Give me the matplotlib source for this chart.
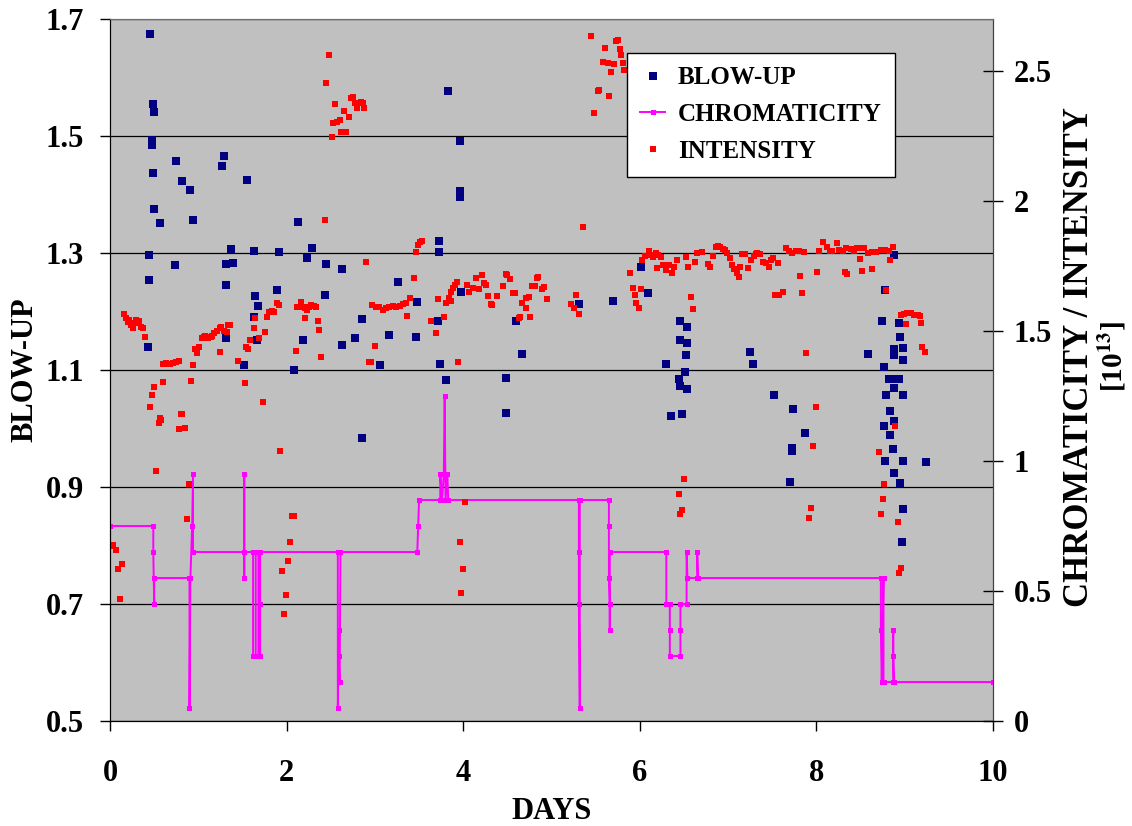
import matplotlib
matplotlib.use("Agg")
import matplotlib.pyplot as plt
from matplotlib.ticker import FormatStrFormatter, FuncFormatter

# BLOW-UP (left axis)
blow_day = [0.45, 0.49, 0.50, 0.48, 0.47, 0.49, 0.50, 0.57, 0.44, 0.44, 0.43,
            0.75, 0.82, 0.91, 0.94, 0.74, 1.27, 1.29, 1.37, 1.31, 1.39, 1.31, 1.31,
            1.55, 1.63, 1.64, 1.68, 1.63, 1.67, 1.52, 1.91, 1.89, 2.13, 2.29, 2.23,
            2.18, 2.08, 2.45, 2.43, 2.63, 2.85, 2.63, 2.77, 3.16, 3.06, 3.26, 2.85,
            3.83, 3.96, 3.96, 3.96, 3.73, 3.73, 3.48, 3.97, 3.47, 3.71, 3.74, 3.80,
            4.60, 4.67, 4.48, 4.48, 5.31, 5.70, 6.01, 6.09,
            6.45, 6.53, 6.46, 6.54, 6.52, 6.51, 6.44, 6.46, 6.54, 6.30, 6.35, 6.48,
            7.25, 7.28, 7.52, 7.74, 7.87, 7.72, 7.72, 7.70,
            8.88, 8.78, 8.74, 8.94, 8.95, 8.88, 8.98, 8.88, 8.98, 8.59, 8.76, 8.82,
            8.88, 8.93, 8.79, 8.88, 8.98, 8.83, 8.88, 8.76, 8.83, 8.87, 8.78, 8.98,
            9.24, 8.88, 8.95, 8.98, 8.97]
blow_val = [1.674, 1.555, 1.541, 1.493, 1.484, 1.436, 1.375, 1.351, 1.296, 1.253, 1.140,
            1.457, 1.423, 1.408, 1.356, 1.280, 1.448, 1.465, 1.306, 1.281, 1.283, 1.245, 1.154,
            1.424, 1.303, 1.226, 1.209, 1.191, 1.151, 1.108, 1.301, 1.237, 1.353, 1.309, 1.291,
            1.152, 1.100, 1.282, 1.229, 1.273, 1.187, 1.143, 1.154, 1.160, 1.108, 1.250, 0.983,
            1.577, 1.492, 1.406, 1.395, 1.321, 1.301, 1.217, 1.234, 1.157, 1.183, 1.111, 1.083,
            1.183, 1.127, 1.087, 1.026, 1.213, 1.218, 1.276, 1.232,
            1.184, 1.173, 1.151, 1.147, 1.126, 1.097, 1.085, 1.072, 1.068, 1.110, 1.022, 1.024,
            1.130, 1.111, 1.057, 1.033, 0.993, 0.967, 0.962, 0.909,
            1.296, 1.237, 1.184, 1.180, 1.156, 1.136, 1.137, 1.126, 1.117, 1.127, 1.105, 1.085,
            1.085, 1.085, 1.057, 1.070, 1.057, 1.030, 1.013, 1.004, 0.989, 0.965, 0.944, 0.944,
            0.942, 0.924, 0.907, 0.862, 0.806]

# CHROMATICITY (right axis, step-like line)
chrom_day = [0.00, 0.49, 0.49, 0.50, 0.50, 0.90, 0.90, 0.91, 0.93, 0.94, 0.94,
             1.52, 1.52, 1.52, 1.52, 1.62, 1.62, 1.65, 1.65, 1.68, 1.68, 1.70, 1.70, 1.70,
             2.58, 2.58, 2.59, 2.59, 2.60, 2.61, 3.48, 3.49, 3.50,
             3.74, 3.74, 3.76, 3.78, 3.79, 3.80, 3.82, 3.83,
             5.31, 5.31, 5.31, 5.32, 5.32, 5.65, 5.65, 5.65, 5.66, 5.66, 5.66,
             6.30, 6.30, 6.34, 6.34, 6.34, 6.46, 6.46, 6.46, 6.53, 6.53, 6.53, 6.54,
             6.65, 6.65, 6.66, 8.73, 8.73, 8.74, 8.76, 8.76, 8.87, 8.87, 8.87, 8.88, 10.0]
chrom_val = [0.75, 0.75, 0.65, 0.45, 0.55, 0.55, 0.05, 0.55, 0.75, 0.95, 0.65,
             0.65, 0.95, 0.55, 0.65, 0.65, 0.25, 0.25, 0.65, 0.65, 0.25, 0.25, 0.45, 0.65,
             0.65, 0.05, 0.35, 0.25, 0.15, 0.65, 0.65, 0.75, 0.85,
             0.85, 0.95, 0.85, 0.95, 1.25, 0.85, 0.95, 0.85,
             0.85, 0.65, 0.45, 0.05, 0.85, 0.85, 0.75, 0.55, 0.45, 0.35, 0.65,
             0.65, 0.45, 0.45, 0.35, 0.25, 0.25, 0.35, 0.45, 0.45, 0.55, 0.65, 0.55,
             0.55, 0.65, 0.55, 0.55, 0.35, 0.15, 0.55, 0.15, 0.15, 0.35, 0.25, 0.15, 0.15]

# INTENSITY (right axis)
int_day = [0.00, 0.03, 0.07, 0.09, 0.13, 0.11, 0.16, 0.18, 0.20, 0.22, 0.24, 0.26, 0.28,
           0.29, 0.31, 0.33, 0.35, 0.37, 0.40, 0.45, 0.47, 0.50, 0.60, 0.57, 0.56, 0.58,
           0.52, 0.78, 0.85, 0.80, 0.82, 0.90, 0.87, 0.60, 0.63, 0.66, 0.68, 0.71, 0.75,
           0.78, 0.92, 0.94, 0.96, 0.99, 1.01, 1.04, 1.06, 1.08, 1.11, 1.14, 1.15, 1.18,
           1.21, 1.24, 1.26, 1.29, 1.32, 1.34, 1.36, 1.24, 1.45, 1.53, 1.54, 1.56, 1.58,
           1.63, 1.64, 1.69, 1.75, 1.78, 1.80, 1.83, 1.86, 1.89, 1.91, 1.73, 1.93, 2.06,
           2.08, 2.04, 2.01, 1.95, 1.99, 1.97, 2.11, 2.12, 2.16, 2.18, 2.21, 2.23, 2.25,
           2.28, 2.31, 2.33, 2.21, 2.35, 2.37, 2.39, 2.43, 2.45, 2.48, 2.51, 2.52, 2.55,
           2.57, 2.60, 2.62, 2.67, 2.65, 2.71, 2.73, 2.75, 2.78, 2.80, 2.84, 2.86, 2.88,
           2.90, 2.93, 2.96, 3.00, 2.97, 3.01, 3.05, 3.09, 3.13, 3.16, 3.20, 3.24, 3.28,
           3.32, 3.35, 3.36, 3.40, 3.44, 3.47, 3.49, 3.51, 3.53, 3.64, 3.69, 3.72, 3.78,
           3.80, 3.84, 3.86, 3.88, 3.91, 3.93, 3.86, 3.94, 4.04, 4.07, 4.11, 4.15, 4.18,
           4.21, 4.23, 4.26, 4.28, 4.31, 4.33, 4.38, 4.45, 4.48, 4.50, 4.53, 4.56, 4.59,
           4.63, 4.64, 4.67, 4.71, 4.74, 4.71, 4.76, 4.78, 4.81, 4.83, 4.85, 4.89, 4.91,
           4.95, 5.22, 5.25, 5.28, 5.31, 5.36, 5.48, 5.53, 5.45, 5.54, 5.58, 5.61, 5.64,
           5.65, 5.67, 5.71, 5.73, 5.75, 5.78, 5.79, 5.81, 5.82, 5.89, 5.92, 5.94, 5.96,
           5.99, 6.01, 6.03, 6.06, 6.10, 6.13, 6.15, 6.18, 6.21, 6.24, 6.19, 6.26, 6.30,
           6.31, 6.33, 6.36, 6.39, 6.42, 6.52, 6.55, 6.58, 6.60, 6.62, 6.65, 6.70, 6.77,
           6.80, 6.83, 6.86, 6.88, 6.91, 6.94, 6.97, 6.99, 7.02, 7.04, 7.07, 7.10, 7.12,
           7.14, 7.16, 7.19, 7.23, 7.26, 7.29, 7.32, 7.33, 7.36, 7.39, 7.43, 7.46, 7.49,
           7.51, 7.56, 7.53, 7.58, 7.62, 7.66, 7.69, 7.72, 7.77, 7.80, 7.86, 7.81, 7.84,
           7.88, 7.99, 8.01, 8.03, 8.07, 8.12, 8.15, 8.18, 8.23, 8.26, 8.30, 8.34, 8.32,
           8.35, 8.39, 8.43, 8.46, 8.50, 8.54, 8.59, 8.63, 8.68, 8.73, 8.78, 8.82, 8.87,
           8.49, 8.52, 8.63, 8.83, 8.79, 8.96, 8.99, 9.03, 9.07, 9.11, 9.15, 9.17, 9.01,
           9.18, 9.20, 9.23, 7.96, 7.94, 7.92, 8.89, 8.71, 8.77, 8.75, 8.73, 8.92, 8.96,
           8.94, 6.50, 6.44, 6.48, 6.46, 4.02, 3.96, 4.00, 3.97]
int_val = [0.673, 0.677, 0.658, 0.585, 0.604, 0.468, 1.565, 1.549, 1.536, 1.542, 1.523, 1.510, 1.530,
           1.542, 1.536, 1.540, 1.517, 1.510, 1.476, 1.209, 1.253, 1.286, 1.304, 1.164, 1.145, 1.158,
           0.962, 1.122, 1.128, 1.181, 1.181, 0.912, 0.776, 1.373, 1.377, 1.375, 1.373, 1.377, 1.380,
           1.385, 1.308, 1.368, 1.430, 1.414, 1.440, 1.473, 1.478, 1.481, 1.472, 1.476, 1.481, 1.494,
           1.501, 1.510, 1.517, 1.500, 1.495, 1.523, 1.523, 1.419, 1.386, 1.301, 1.440, 1.430, 1.465,
           1.510, 1.549, 1.472, 1.495, 1.553, 1.574, 1.578, 1.574, 1.606, 1.600, 1.226, 1.038, 0.788,
           0.790, 0.690, 0.614, 0.576, 0.486, 0.410, 1.423, 1.591, 1.613, 1.594, 1.587, 1.581, 1.594,
           1.600, 1.596, 1.594, 1.549, 1.538, 1.504, 1.401, 1.927, 2.453, 2.562, 2.247, 2.301, 2.373,
           2.305, 2.312, 2.267, 2.267, 2.346, 2.324, 2.395, 2.400, 2.376, 2.356, 2.381, 2.377, 2.356,
           1.767, 1.381, 1.379, 1.442, 1.600, 1.594, 1.592, 1.581, 1.587, 1.594, 1.597, 1.594, 1.598,
           1.603, 1.606, 1.558, 1.626, 1.703, 1.805, 1.831, 1.843, 1.847, 1.540, 1.494, 1.622, 1.555,
           1.606, 1.626, 1.651, 1.664, 1.677, 1.690, 1.615, 1.382, 1.677, 1.651, 1.667, 1.703, 1.660,
           1.715, 1.686, 1.677, 1.635, 1.604, 1.600, 1.635, 1.673, 1.719, 1.715, 1.699, 1.645, 1.646,
           1.549, 1.553, 1.609, 1.628, 1.632, 1.587, 1.555, 1.673, 1.673, 1.703, 1.706, 1.660, 1.668,
           1.623, 1.604, 1.587, 1.637, 1.565, 1.901, 2.340, 2.423, 2.635, 2.427, 2.536, 2.590, 2.532,
           2.404, 2.497, 2.527, 2.617, 2.619, 2.583, 2.562, 2.532, 2.504, 1.724, 1.664, 1.638, 1.609,
           1.587, 1.660, 1.773, 1.788, 1.809, 1.792, 1.786, 1.799, 1.792, 1.786, 1.741, 1.754, 1.735,
           1.754, 1.754, 1.724, 1.747, 1.773, 1.783, 1.745, 1.630, 1.583, 1.767, 1.799, 1.805, 1.758,
           1.747, 1.788, 1.824, 1.827, 1.824, 1.814, 1.812, 1.799, 1.779, 1.754, 1.737, 1.724, 1.707,
           1.747, 1.796, 1.796, 1.743, 1.773, 1.788, 1.796, 1.799, 1.796, 1.767, 1.760, 1.747, 1.773,
           1.779, 1.760, 1.638, 1.638, 1.651, 1.818, 1.809, 1.799, 1.809, 1.809, 1.803, 1.712, 1.647,
           1.417, 1.207, 1.728, 1.809, 1.843, 1.824, 1.809, 1.809, 1.840, 1.812, 1.809, 1.818, 1.728,
           1.719, 1.814, 1.809, 1.818, 1.818, 1.818, 1.799, 1.805, 1.805, 1.812, 1.812, 1.809, 1.824,
           1.776, 1.732, 1.737, 1.773, 1.658, 1.562, 1.565, 1.568, 1.568, 1.562, 1.562, 1.558, 1.527,
           1.529, 1.440, 1.418, 1.059, 0.818, 0.780, 1.135, 1.033, 0.912, 0.854, 0.796, 0.764, 0.588,
           0.570, 0.931, 0.873, 0.812, 0.795, 0.844, 0.690, 0.583, 0.494]

left_ticks = [0.5, 0.7, 0.9, 1.1, 1.3, 1.5, 1.7]
right_ticks = [0, 0.5, 1, 1.5, 2, 2.5]
day_ticks = [0, 2, 4, 6, 8, 10]

plt.rcParams['font.family'] = 'Liberation Serif'
plt.rcParams['font.weight'] = 'bold'
plt.rcParams['mathtext.fontset'] = 'stix'

fig = plt.figure(figsize=(11.32, 8.26), dpi=100)
ax = fig.add_axes([0.0972, 0.1271, 0.78, 0.8499])
ax.set_facecolor('#C0C0C0')

b, = ax.plot(blow_day, blow_val, 's', color='#000080', ms=5.4, mew=0, label='BLOW-UP')
ax.set_xlim(0, 10)
ax.set_ylim(0.5, 1.7)
ax.set_yticks(left_ticks)
ax.set_xticks(day_ticks)
ax.yaxis.set_major_formatter(FormatStrFormatter('%.1f'))
ax.yaxis.grid(True, color='black', lw=0.9)
ax.tick_params(axis='both', labelsize=22, length=7, width=1, direction='out')
ax.tick_params(axis='x', pad=20)
ax.tick_params(axis='y', pad=12)
ax.set_xlabel('DAYS', fontsize=22, fontweight='bold', labelpad=7)
ax.set_ylabel('BLOW-UP', fontsize=22, fontweight='bold', labelpad=4)
ax.spines['top'].set_color('#707070')
ax.spines['right'].set_color('#404040')

ax2 = ax.twinx()
c, = ax2.plot(chrom_day, chrom_val, '-s', color='#FF00FF', lw=1.4, ms=3.6, mew=0,
              label='CHROMATICITY')
r, = ax2.plot(int_day, int_val, 's', color='#FF0000', ms=3.8, mew=0, label='INTENSITY')
ax2.set_ylim(0, 2.7)
ax2.set_yticks(right_ticks)
ax2.yaxis.set_major_formatter(FuncFormatter(lambda v, p: '%g' % v))
ax2.tick_params(axis='y', labelsize=22, length=14, width=1, direction='inout', pad=8)
ax2.spines['right'].set_color('#404040')
ax2.spines['top'].set_color('#707070')

# right axis title, two rotated lines
fig.text(1080 / 1132, 1 - 357 / 826, 'CHROMATICITY / INTENSITY', rotation=90,
         ha='center', va='center', fontsize=25, fontweight='bold')
fig.text(1112 / 1132, 1 - 357 / 826, '[10$^{\\mathbf{13}}$]', rotation=90,
         ha='center', va='center', fontsize=21, fontweight='bold')

leg = ax2.legend(handles=[b, c, r], loc='upper left', bbox_to_anchor=(0.585, 0.952),
                 borderaxespad=0, fancybox=False, framealpha=1, edgecolor='black',
                 prop={'family': 'Liberation Serif', 'weight': 'bold', 'size': 18},
                 handlelength=1.0, handletextpad=0.5, labelspacing=0.55, borderpad=0.55)
leg.get_frame().set_linewidth(1)

fig.savefig('out.png', dpi=100)
